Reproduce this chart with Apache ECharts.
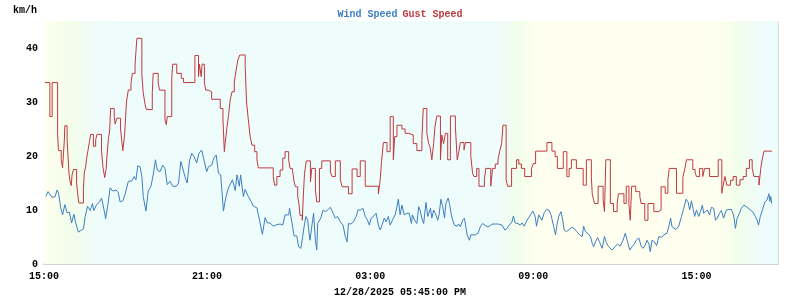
<!DOCTYPE html>
<html>
<head>
<meta charset="utf-8">
<script src="https://cdn.jsdelivr.net/npm/echarts@6/dist/echarts.min.js"></script>
<style>
html,body{margin:0;padding:0;background:#fff;}
#chart{width:800px;height:300px;}
</style>
</head>
<body>
<div id="chart"></div>
<script>
// minutes after 15:00 on 12/27/2025
var windTimes = [4,9,17,24,29,32,37,41,46,51,56,61,66,70,76,81,87,91,96,102,107,110,116,122,127,131,136,141,146,152,159,164,168,174,179,183,186,194,199,203,207,212,216,219,225,230,236,241,246,250,256,262,267,272,278,284,292,297,302,306,311,316,321,326,331,337,342,348,352,359,363,370,375,380,385,390,396,401,407,411,416,422,426,431,434,440,444,451,457,462,470,477,482,488,493,499,506,514,521,527,532,540,542,547,552,558,562,567,571,574,578,582,585,587,591,595,599,602,604,608,611,616,621,626,632,638,643,648,654,660,665,669,672,677,683,689,693,698,704,709,714,718,722,727,733,738,742,746,751,755,760,764,770,775,779,782,786,790,795,801,806,811,813,818,823,827,830,834,838,843,847,853,856,860,865,869,872,876,880,884,887,892,895,899,902,906,912,915,919,924,928,931,934,939,942,947,952,958,963,968,972,978,983,989,996,1003,1011,1017,1022,1027,1033,1036,1040,1046,1051,1055,1060,1064,1070,1076,1079,1084,1087,1092,1095,1099,1104,1109,1114,1119,1125,1129,1132,1136,1141,1145,1148,1153,1158,1165,1170,1176,1182,1188,1191,1195,1200,1206,1210,1213,1217,1222,1226,1232,1237,1241,1246,1254,1261,1266,1272,1278,1283,1288,1293,1298,1303,1307,1313,1318,1322,1327,1331,1335,1338,1342,1347,1352,1357,1363,1368,1375,1379,1383,1386,1390,1395,1401,1407,1412,1417,1422,1425,1429,1433,1436,1440,1445,1449,1453,1456,1460,1464,1469,1473,1478,1482,1486,1491,1495,1500,1506,1511,1517,1522,1526,1530,1535,1539,1545,1552,1559,1564,1570,1574,1577,1581,1586,1591,1596,1600,1602,1604,1606];
var windSpeed = [12.5,13.4,12.4,12.4,13.7,13.1,10.4,9.1,11,9.5,9.6,7.6,9.2,7.6,5.9,6.2,6.5,8.8,10.7,9.9,11.2,9.9,11,11.4,12.2,10.7,8.4,11,14.1,13.5,13.7,13.2,11.5,11.7,12.9,12.6,15.3,15.4,16.2,15.6,18.2,18,16.2,12.5,9.8,13.5,14.4,16.5,19.3,17.4,17.1,18.3,17.7,14.7,15.3,14.4,14.4,15,19,17.8,16.2,15,19,20.5,19.9,18.7,20.5,21.1,20.8,17.1,18,18.3,19.6,20.2,16.8,16.5,9.8,12.2,14.1,13.8,15.6,13.6,16.5,14.4,16.5,12.5,13.8,12.5,11.6,10.7,10.4,7.6,5.5,8.6,7.6,7.6,7,7.3,7.4,7.2,9.1,9.1,10.3,7.8,5.2,5.2,3.2,2.9,5.1,6.9,8.8,8.1,5.7,4.4,4.4,9.4,4.4,2.6,7.5,7.2,8.5,10,9.7,10,10.5,9.4,8.5,8.8,7.8,7.2,5.1,4.1,7.5,7.4,7.8,8.8,10,10,10.3,8.8,8.1,7.2,8.5,8.8,9.4,7.2,6.3,7.2,8.5,7.8,8.8,7.2,8.3,9.1,10.6,12,9.1,10.9,9.1,9.4,9.4,7.5,9.1,8.1,7.5,10.6,10,8.5,7.5,11.4,8.8,10.3,8.5,10,9.1,8.1,9.1,12,10.6,8.5,11.2,12.2,11.2,9.1,8.1,7.2,7,7.4,6.9,8.1,8.5,6.9,5.4,4.4,5.4,5.4,5.4,5.7,6.9,7.5,7.5,6.9,7,7.4,7.4,7.4,7.2,6.3,6.6,7.2,7.8,8.9,7.6,7.5,7.2,7.6,7,7.8,8.6,9.4,9.8,8.8,7,9.1,9.4,8.1,9.5,10.1,10,9.1,6.9,5.4,7.2,8.8,9.7,8.1,6.3,6,6.3,6.8,6.6,6,5.4,5.1,7,6,5.7,5.1,3.8,3.2,4.1,4.9,4.1,2.9,5.1,4,3.2,2.6,3.3,3.7,3.3,4.4,5.7,4.1,2.6,3.2,3.7,4.4,4.8,3.3,2.9,3.5,4.4,3.7,2.3,4.4,4.1,3.4,5.1,4.9,5.4,5.7,6.9,8.5,6.9,6.6,6.4,7,8.8,10.3,12,11.4,10,11.7,10.1,8.8,10,8.8,9.7,10.9,9.4,9.1,10,9.1,10.5,10.3,8.1,8.5,9.4,9.9,8.5,10,10.1,10.1,9.1,6.6,8.5,9.4,10.3,10.9,10.5,10,9.7,8.8,8.1,7.2,8.8,10.1,11.5,11.9,13,11.6,12.5,11.2];
var gustTimes = [2,13,18,30,32,38,41,43,45,46,51,53,55,57,60,62,65,72,75,77,87,89,92,94,97,100,103,109,114,117,127,130,134,137,139,142,145,147,155,157,161,169,172,174,178,180,182,186,192,195,201,205,216,219,223,226,239,241,252,255,267,270,272,282,284,293,303,308,333,341,343,347,349,354,357,363,370,389,395,398,400,404,407,411,415,420,424,428,432,444,447,451,455,459,465,470,473,506,509,514,521,527,532,540,543,548,552,555,560,563,565,570,573,575,579,588,591,599,602,608,613,632,636,643,654,658,672,680,691,698,709,738,742,745,749,757,764,771,774,779,790,797,805,815,823,834,837,845,849,852,856,860,863,867,875,878,882,886,891,897,908,912,915,919,927,930,942,946,949,955,960,972,975,986,990,996,1002,1006,1010,1013,1020,1023,1032,1043,1048,1054,1061,1076,1080,1085,1110,1121,1128,1133,1146,1154,1159,1164,1175,1190,1197,1208,1210,1213,1215,1223,1234,1237,1240,1250,1257,1265,1268,1280,1285,1291,1294,1297,1306,1315,1318,1326,1333,1346,1357,1362,1371,1377,1380,1396,1410,1414,1418,1432,1437,1440,1447,1454,1458,1469,1488,1496,1499,1503,1507,1515,1521,1528,1536,1543,1550,1557,1563,1567,1578,1582,1585,1589,1607];
var gustSpeed = [33.6,27.3,33.6,24,21,19.3,17.8,20.5,23,25.6,23,20,17,15.5,14.5,16.5,17.5,15,12.5,11.3,14,17,18,19.5,21,22.5,24,21.8,23,24,21,18,16,17.5,20,23,24.8,28.8,27.3,25.9,27,25,22.5,21,24,27,30,32.2,33.5,35.3,37,41.8,35,31.7,29.6,28.6,31.7,35.3,33.5,32.2,26.7,25.8,27.3,34.4,37,35.3,34.4,33.6,38.6,34.7,37,34.7,37,33.5,32.2,31.9,30.5,28.8,26.7,20.8,22.5,25.4,27.3,30.4,31.9,33.7,35.9,37.8,38.7,36.8,30,26.7,23.6,22,20.8,19.3,17.8,16.2,14.6,16.2,17.4,19.6,20.8,19.3,17.7,17.4,15.2,14.3,12.5,10.9,9,8.1,13.7,16.8,19.1,15.2,17.7,13.7,11.5,17.7,19.1,17,16.2,19.1,15.6,14.3,13,17.6,16.2,19.1,14.4,13,15.6,19,22.5,20.8,27.3,19.3,23.6,25.7,25,24.2,23.9,22.3,21,23,28.8,24.2,22.3,21.7,19.3,22.3,25.5,27.4,19.3,23.9,22.3,24.2,19.3,27.4,25.4,19.3,20.5,22.5,21.1,22.5,19.9,16.8,16.2,17.7,14.4,15.6,17.7,14.4,17.7,18.5,19.3,21,22.3,25.7,15.6,14.4,17.7,19.3,18.5,17.7,16.2,17.7,18.6,20.9,22.5,20.9,19.9,17.7,20.8,16.2,17.7,19.3,17.7,14.6,19.3,16.2,13,11.9,11.2,14.4,11.9,9.7,19.3,11.2,9.7,11.2,13,11.2,14.4,11,8.1,14.4,13.4,12.5,11.2,8.1,11.2,9.7,10,14.3,13.1,15.6,17.7,13.1,16,17.5,19.3,17.5,17,16.2,17.7,16.2,17.7,16.2,19.3,13.1,14.6,16.2,14.6,15.5,16.2,14.6,15.6,16.2,17.7,19.3,17.7,16.2,14.6,17.7,19.3,20.9,20.9];
// x-axis tick labels every 6 h (minutes after 15:00)
var tickLabels = {0:'15:00', 360:'21:00', 720:'03:00', 1080:'09:00', 1440:'15:00'};
// daylight shading: [start, end, kind]
var lightBands = [[0,125,'dusk'],[125,1000,'night'],[1000,1090,'dawn'],[1090,1478,'day'],[1478,1585,'dusk'],[1585,1620,'night']];

var DAY='#fffff0', NIGHT='#effcfc', MID='#f2fdea';
function bandColor(kind){
  if(kind==='day') return DAY;
  if(kind==='night') return NIGHT;
  var stops = kind==='dusk' ? [DAY,MID,NIGHT] : [NIGHT,MID,DAY];
  return new echarts.graphic.LinearGradient(0,0,1,0,[
    {offset:0,color:stops[0]},{offset:0.5,color:stops[1]},{offset:1,color:stops[2]}]);
}
var areaData = lightBands.map(function(b){
  return [{xAxis:b[0], itemStyle:{color:bandColor(b[2])}},{xAxis:b[1]}];
});
function pairs(t,v){return t.map(function(x,i){return [x,v[i]];});}

var FONT='"Liberation Mono", "DejaVu Sans Mono", monospace';
var chart = echarts.init(document.getElementById('chart'), null, {renderer:'canvas'});
chart.setOption({
  animation:false,
  backgroundColor:'#ffffff',
  title:[
    {text:'{a|Wind Speed} {b|Gust Speed}', left:'center', top:0,
     textStyle:{rich:{a:{color:'#3d7fc1',fontFamily:FONT,fontWeight:'bold',fontSize:10},
                      b:{color:'#bf3a3f',fontFamily:FONT,fontWeight:'bold',fontSize:10}}}},
    {text:'km/h', left:8, top:0,
     textStyle:{color:'#000',fontFamily:FONT,fontWeight:'bold',fontSize:10}},
    {text:'12/28/2025 05:45:00 PM', left:'center', top:282,
     textStyle:{color:'#000',fontFamily:FONT,fontWeight:'bold',fontSize:10}}
  ],
  grid:{left:44,right:22,top:21,bottom:36,containLabel:false},
  xAxis:{type:'value',min:0,max:1620,interval:180,
    axisLine:{show:true,lineStyle:{color:'#d4d4d4',width:2}},
    axisTick:{show:false},
    axisLabel:{margin:7,color:'#000',fontFamily:FONT,fontWeight:'bold',fontSize:10,
      showMaxLabel:false,
      formatter:function(v){return tickLabels[v]||'';}},
    splitLine:{show:true,lineStyle:{color:'#d9d9d9',width:1}}
  },
  yAxis:{type:'value',min:0,max:45,interval:5,
    axisLine:{show:true,lineStyle:{color:'#d4d4d4',width:1}},
    axisTick:{show:false},
    axisLabel:{margin:6,color:'#000',fontFamily:FONT,fontWeight:'bold',fontSize:10,
      formatter:function(v){return v%10===0?String(v):'';}},
    splitLine:{show:true,lineStyle:{color:'#d9d9d9',width:1}}
  },
  series:[
    {type:'line',data:[],z:-1,silent:true,
     markArea:{silent:true,data:areaData}},
    {name:'Gust Speed',type:'line',step:'end',showSymbol:false,z:3,
     data:pairs(gustTimes,gustSpeed),
     lineStyle:{color:'#bf3a3f',width:1},itemStyle:{color:'#bf3a3f'}},
    {name:'Wind Speed',type:'line',showSymbol:false,z:4,
     data:pairs(windTimes,windSpeed),
     lineStyle:{color:'#3d7fc1',width:1},itemStyle:{color:'#3d7fc1'}}
  ]
});
</script>
</body>
</html>
